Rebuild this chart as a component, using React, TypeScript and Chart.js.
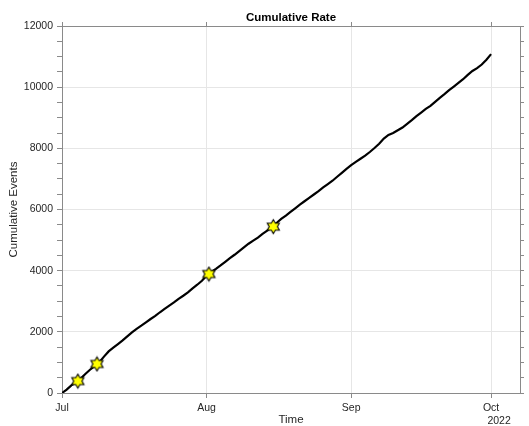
import React, { useEffect, useRef } from 'react';
import { Chart, registerables } from 'chart.js';

Chart.register(...registerables);

// ---- data (days since 2022-07-01) ----
const lineDays = [
  0, 1, 2, 3, 4, 5, 6, 7, 8, 9, 10, 11, 12, 13, 14, 15, 16, 17, 18, 19, 20,
  21, 22, 23, 24, 25, 26, 27, 28, 29, 30, 31, 32, 33, 34, 35, 36, 37, 38, 39, 40,
  41, 42, 43, 44, 45, 46, 47, 48, 49, 50, 51, 52, 53, 54, 55, 56, 57, 58, 59, 60,
  61, 62, 63, 64, 65, 66, 67, 68, 69, 70, 71, 72, 73, 74, 75, 76, 77, 78, 79, 80,
  81, 82, 83, 84, 85, 86, 87, 88, 89, 90, 91, 92,
];
const lineValues = [
  0, 110, 250, 340, 470, 620, 760, 880, 1010, 1190, 1360, 1480, 1600, 1720, 1850, 1980, 2100, 2200, 2310, 2420, 2520,
  2640, 2750, 2860, 2960, 3080, 3180, 3290, 3420, 3540, 3670, 3830, 3960, 4060, 4170, 4290, 4410, 4520, 4640, 4760, 4880,
  4980, 5080, 5200, 5310, 5410, 5560, 5690, 5800, 5920, 6040, 6160, 6270, 6380, 6490, 6600, 6720, 6830, 6940, 7070, 7200,
  7330, 7450, 7560, 7660, 7760, 7880, 8010, 8150, 8320, 8440, 8500, 8590, 8680, 8800, 8920, 9050, 9170, 9290, 9390, 9520,
  9650, 9770, 9900, 10020, 10140, 10260, 10400, 10530, 10620, 10740, 10900, 11080,
];
const starDays = [3.4, 7.5, 31.5, 45.3];
const starValues = [390, 950, 3890, 5440];

const xTickDays = [0, 31, 62, 92];
const xTickLabels = ['Jul', 'Aug', 'Sep', 'Oct'];
const yearLabel = '2022';
const titleText = 'Cumulative Rate';
const xTitle = 'Time';
const yTitle = 'Cumulative Events';

const X_MAX = 98.2;
const Y_MAX = 12000;
const Y_MAJOR = 2000;
const Y_MINOR = 500;

const FONT = '"Liberation Sans", Arial, Helvetica, sans-serif';
const AXIS_COLOR = '#8a8a8a';
const GRID_COLOR = '#e6e6e6';
const TEXT_COLOR = '#262626';

function makeStar(): HTMLCanvasElement {
  const c = document.createElement('canvas');
  const s = 17;
  c.width = s;
  c.height = s;
  const g = c.getContext('2d')!;
  const cx = s / 2;
  const cy = s / 2;
  const R = 7;
  const r = 4.1;
  g.beginPath();
  for (let k = 0; k < 12; k++) {
    const ang = (-90 + k * 30) * Math.PI / 180;
    const rad = k % 2 === 0 ? R : r;
    const px = cx + rad * Math.cos(ang);
    const py = cy + rad * Math.sin(ang);
    if (k === 0) g.moveTo(px, py);
    else g.lineTo(px, py);
  }
  g.closePath();
  g.fillStyle = '#ffff00';
  g.fill();
  g.lineWidth = 1.1;
  g.lineJoin = 'miter';
  g.strokeStyle = '#000000';
  g.stroke();
  return c;
}

const extraText = {
  id: 'extraText',
  afterDraw(chart: any) {
    const { ctx, chartArea } = chart;
    ctx.save();
    ctx.fillStyle = '#000000';
    ctx.font = `bold 11.5px ${FONT}`;
    ctx.textAlign = 'center';
    ctx.textBaseline = 'middle';
    ctx.fillText(titleText, (chartArea.left + chartArea.right) / 2, 18);
    const x = chart.scales.x.getPixelForValue(xTickDays[xTickDays.length - 1]);
    ctx.font = `10.5px ${FONT}`;
    ctx.fillStyle = TEXT_COLOR;
    ctx.fillText(yearLabel, x + 8, 421.5);
    ctx.restore();
  },
};

export default function App() {
  const ref = useRef<HTMLCanvasElement | null>(null);

  useEffect(() => {
    document.body.style.margin = '0';
    const canvas = ref.current;
    if (!canvas) return;
    const star = makeStar();
    const setTicks = (axis: any) => {
      axis.ticks = xTickDays.map((v) => ({ value: v }));
    };
    const chart = new Chart(canvas, {
      type: 'line',
      data: {
        datasets: [
          {
            label: 'events',
            data: starDays.map((d, i) => ({ x: d, y: starValues[i] })),
            showLine: false,
            pointStyle: star as any,
            pointRadius: 8,
            xAxisID: 'x',
            yAxisID: 'y',
          },
          {
            label: 'cumulative',
            data: lineDays.map((d, i) => ({ x: d, y: lineValues[i] })),
            borderColor: '#000000',
            borderWidth: 2.2,
            pointRadius: 0,
            tension: 0,
            fill: false,
            xAxisID: 'x',
            yAxisID: 'y',
          },
        ],
      },
      options: {
        responsive: false,
        animation: false,
        events: [],
        layout: { padding: 0 },
        plugins: {
          legend: { display: false },
          tooltip: { enabled: false },
          title: { display: false },
        },
        scales: {
          x: {
            type: 'linear',
            position: 'bottom',
            min: 0,
            max: X_MAX,
            afterBuildTicks: setTicks,
            afterFit: (s: any) => { s.height = 33; },
            ticks: {
              autoSkip: false,
              maxRotation: 0,
              padding: 3.5,
              color: TEXT_COLOR,
              font: { size: 10.5, family: FONT },
              callback: (v: any) => {
                const i = xTickDays.indexOf(Number(v));
                return i >= 0 ? xTickLabels[i] : '';
              },
            },
            grid: { color: GRID_COLOR, tickColor: AXIS_COLOR, tickLength: 5, lineWidth: 1 },
            border: { color: AXIS_COLOR, width: 1 },
            title: {
              display: true,
              text: xTitle,
              color: TEXT_COLOR,
              font: { size: 11.5, family: FONT, lineHeight: 1 },
              padding: { top: 0, bottom: 0 },
            },
          },
          x2: {
            type: 'linear',
            position: 'top',
            min: 0,
            max: X_MAX,
            afterBuildTicks: setTicks,
            afterFit: (s: any) => { s.height = 26; },
            ticks: { autoSkip: false, padding: 0, callback: () => '' },
            grid: { drawOnChartArea: false, tickColor: AXIS_COLOR, tickLength: 4 },
            border: { color: AXIS_COLOR, width: 1 },
          },
          y: {
            type: 'linear',
            position: 'left',
            min: 0,
            max: Y_MAX,
            afterFit: (s: any) => { s.width = 62; },
            ticks: {
              stepSize: Y_MINOR,
              autoSkip: false,
              padding: 4,
              color: TEXT_COLOR,
              font: { size: 10.5, family: FONT },
              callback: (v: any) => (Number(v) % Y_MAJOR === 0 ? String(v) : ''),
            },
            grid: {
              color: (c: any) => (c.tick && c.tick.value % Y_MAJOR === 0 ? GRID_COLOR : 'rgba(0,0,0,0)'),
              tickColor: AXIS_COLOR,
              tickLength: 5,
            },
            border: { color: AXIS_COLOR, width: 1 },
            title: {
              display: true,
              text: yTitle,
              color: TEXT_COLOR,
              font: { size: 11.5, family: FONT, lineHeight: 1.2 },
              padding: { top: 7, bottom: 0 },
            },
          },
          y2: {
            type: 'linear',
            position: 'right',
            min: 0,
            max: Y_MAX,
            afterFit: (s: any) => { s.width = 8; },
            ticks: { stepSize: Y_MINOR, autoSkip: false, padding: 0, callback: () => '' },
            grid: { drawOnChartArea: false, tickColor: AXIS_COLOR, tickLength: 4 },
            border: { color: AXIS_COLOR, width: 1 },
          },
        },
      },
      plugins: [extraText],
    });
    return () => chart.destroy();
  }, []);

  return (
    <div style={{ width: 529, height: 426 }}>
      <canvas ref={ref} width={529} height={426} />
    </div>
  );
}
